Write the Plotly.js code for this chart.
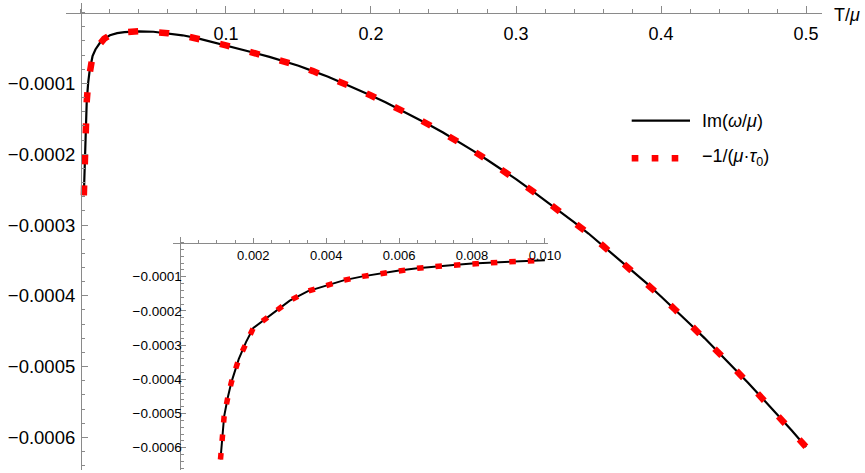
<!DOCTYPE html>
<html><head><meta charset="utf-8">
<script src="https://cdn.plot.ly/plotly-3.0.1.min.js"></script>
<style>html,body{margin:0;padding:0;background:#fff}#chart{width:865px;height:473px}</style>
</head><body><div id="chart"></div>
<script>
// ---------- DATA ----------
// Main panel: T/mu and the two coinciding curves
const mainT = [0.002,0.003,0.004,0.005,0.006,0.008,0.01,0.013,0.016,0.02,0.025,0.03,0.04,0.05,0.06,0.07,0.08,0.09,0.1,
  0.11,0.12,0.13,0.14,0.15,0.16,0.17,0.18,0.19,0.2,0.21,0.22,0.23,0.24,0.25,0.26,0.27,0.28,0.29,0.3,
  0.31,0.32,0.33,0.34,0.35,0.36,0.37,0.38,0.39,0.4,0.41,0.42,0.43,0.44,0.45,0.46,0.47,0.48,0.49,0.5];
const mainImOmega = [-2.58e-4,-1.70e-4,-1.25e-4,-0.99e-4,-0.82e-4,-0.615e-4,-0.52e-4,-0.43e-4,-0.37e-4,-0.32e-4,-0.29e-4,-0.275e-4,-0.264e-4,-0.270e-4,-0.290e-4,-0.320e-4,-0.360e-4,-0.410e-4,-0.462e-4,
  -0.515e-4,-0.570e-4,-0.625e-4,-0.685e-4,-0.750e-4,-0.826e-4,-0.902e-4,-0.990e-4,-1.077e-4,-1.170e-4,-1.265e-4,-1.369e-4,-1.473e-4,-1.583e-4,-1.696e-4,-1.818e-4,-1.946e-4,-2.078e-4,-2.214e-4,-2.351e-4,
  -2.500e-4,-2.650e-4,-2.800e-4,-2.960e-4,-3.120e-4,-3.294e-4,-3.466e-4,-3.640e-4,-3.820e-4,-4.009e-4,-4.200e-4,-4.398e-4,-4.597e-4,-4.805e-4,-5.015e-4,-5.228e-4,-5.450e-4,-5.673e-4,-5.900e-4,-6.135e-4];
const mainInvTau = [-2.58e-4,-1.70e-4,-1.25e-4,-0.99e-4,-0.82e-4,-0.615e-4,-0.52e-4,-0.43e-4,-0.37e-4,-0.32e-4,-0.29e-4,-0.275e-4,-0.264e-4,-0.270e-4,-0.290e-4,-0.320e-4,-0.360e-4,-0.410e-4,-0.462e-4,
  -0.515e-4,-0.570e-4,-0.625e-4,-0.685e-4,-0.750e-4,-0.826e-4,-0.902e-4,-0.990e-4,-1.077e-4,-1.170e-4,-1.265e-4,-1.369e-4,-1.473e-4,-1.583e-4,-1.696e-4,-1.818e-4,-1.946e-4,-2.078e-4,-2.214e-4,-2.351e-4,
  -2.500e-4,-2.650e-4,-2.800e-4,-2.960e-4,-3.120e-4,-3.294e-4,-3.466e-4,-3.640e-4,-3.820e-4,-4.009e-4,-4.200e-4,-4.398e-4,-4.597e-4,-4.805e-4,-5.015e-4,-5.228e-4,-5.450e-4,-5.673e-4,-5.900e-4,-6.135e-4];

// Inset: low-temperature zoom
const insetT = [0.0011,0.00115,0.0012,0.0013,0.0014,0.0016,0.0018,0.002,0.0025,0.003,0.0035,0.004,0.0045,0.005,0.0055,0.006,0.0065,0.007,0.0075,0.008,0.0085,0.009,0.0095,0.01];
const insetImOmega = [-6.34e-4,-5.60e-4,-5.08e-4,-4.53e-4,-4.08e-4,-3.41e-4,-2.91e-4,-2.50e-4,-2.10e-4,-1.70e-4,-1.42e-4,-1.25e-4,-1.10e-4,-0.99e-4,-0.90e-4,-0.82e-4,-0.755e-4,-0.70e-4,-0.66e-4,-0.615e-4,-0.585e-4,-0.56e-4,-0.54e-4,-0.52e-4];
const insetInvTau = [-6.34e-4,-5.60e-4,-5.08e-4,-4.53e-4,-4.08e-4,-3.41e-4,-2.91e-4,-2.50e-4,-2.10e-4,-1.70e-4,-1.42e-4,-1.25e-4,-1.10e-4,-0.99e-4,-0.90e-4,-0.82e-4,-0.755e-4,-0.70e-4,-0.66e-4,-0.615e-4,-0.585e-4,-0.56e-4,-0.54e-4,-0.52e-4];

// Tick labels
const mainXTickVals = [0.1,0.2,0.3,0.4,0.5];
const mainXTickText = ['0.1','0.2','0.3','0.4','0.5'];
const mainYTickVals = [-0.0001,-0.0002,-0.0003,-0.0004,-0.0005,-0.0006];
const mainYTickText = ['\u22120.0001','\u22120.0002','\u22120.0003','\u22120.0004','\u22120.0005','\u22120.0006'];
const insetXTickVals = [0.002,0.004,0.006,0.008,0.010];
const insetXTickText = ['0.002','0.004','0.006','0.008','0.010'];
const insetYTickVals = [-0.0001,-0.0002,-0.0003,-0.0004,-0.0005,-0.0006];
const insetYTickText = ['\u22120.0001','\u22120.0002','\u22120.0003','\u22120.0004','\u22120.0005','\u22120.0006'];

// Labels
const xAxisLabel = 'T/<i>\u03bc</i>';
const seriesNames = ['Im(<i>\u03c9</i>/<i>\u03bc</i>)', '\u22121/(<i>\u03bc</i>\u00b7<i>\u03c4</i><sub>0</sub>)'];

// ---------- LAYOUT ----------
const W = 865, H = 473;
const M = {l:66, r:43, t:3, b:3};
const PW = W - M.l - M.r, PH = H - M.t - M.b;
const px2x = p => (p - M.l) / PW;
const px2y = p => (H - M.b - p) / PH;

const FONT = '"Liberation Sans", Arial, Helvetica, sans-serif';
const AX = '#8a8a8a';

const mainXRange = [-0.0103, 0.511];
const mainYRange = [-6.46e-4, 0.136e-4];
const insetXRange = [-0.000203, 0.010085];
const insetYRange = [-6.65e-4, 0.161e-4];
const insetXDom = [px2x(173), px2x(548)];
const insetYDom = [Math.max(0, px2y(470)), px2y(237)];

const frac = (v, r) => (v - r[0]) / (r[1] - r[0]);
const mainXPos = frac(0, mainYRange);
const mainYPos = frac(0, mainXRange);
const insetXPos = insetYDom[0] + frac(0, insetYRange) * (insetYDom[1] - insetYDom[0]);
const insetYPos = insetXDom[0] + frac(0, insetXRange) * (insetXDom[1] - insetXDom[0]);

const traces = [
  {x: mainT, y: mainImOmega, xaxis:'x', yaxis:'y', mode:'lines', name:'Im', line:{color:'#000', width:2.2}, hoverinfo:'skip'},
  {x: mainT, y: mainInvTau, xaxis:'x', yaxis:'y', mode:'lines', name:'tau', line:{color:'#ff0000', width:6.5, dash:'10px,21px'}, hoverinfo:'skip'},
  {x: insetT, y: insetImOmega, xaxis:'x2', yaxis:'y2', mode:'lines', line:{color:'#000', width:2}, hoverinfo:'skip'},
  {x: insetT, y: insetInvTau, xaxis:'x2', yaxis:'y2', mode:'lines', line:{color:'#ff0000', width:5.5, dash:'6.5px,12px'}, hoverinfo:'skip'}
];

const common = {showline:true, linecolor:AX, linewidth:1, zeroline:false, showgrid:false, tickcolor:AX, tickwidth:1,
  tickmode:'array', ticklabeloverflow:'allow', fixedrange:true, automargin:false};

const layout = {
  width:W, height:H, margin:M, paper_bgcolor:'#fff', plot_bgcolor:'rgba(0,0,0,0)', showlegend:false,
  font:{family:FONT, color:'#000'},
  xaxis: Object.assign({}, common, {
    range: mainXRange, domain:[0,1], anchor:'free', position: mainXPos, side:'top',
    tickvals: mainXTickVals, ticktext: mainXTickText, ticks:'outside', ticklen:7,
    ticklabelposition:'inside', ticklabelstandoff: 14,
    tickfont:{family:FONT, size:18, color:'#000'},
    minor:{tickmode:'linear', tick0:0, dtick:0.02, ticks:'outside', ticklen:3.5, tickwidth:1, tickcolor:AX}
  }),
  yaxis: Object.assign({}, common, {
    range: mainYRange, domain:[0,1], anchor:'free', position: mainYPos, side:'left',
    tickvals: mainYTickVals, ticktext: mainYTickText, ticks:'inside', ticklen:6.5,
    ticklabelposition:'outside', ticklabelstandoff: 2,
    tickfont:{family:FONT, size:18.5, color:'#000'},
    minor:{tickmode:'linear', tick0:0, dtick:0.00002, ticks:'inside', ticklen:3.3, tickwidth:1, tickcolor:AX}
  }),
  xaxis2: Object.assign({}, common, {
    range: insetXRange, domain: insetXDom, anchor:'free', position: insetXPos, side:'top',
    tickvals: insetXTickVals, ticktext: insetXTickText, ticks:'outside', ticklen:5,
    ticklabelposition:'inside', ticklabelstandoff: 7,
    tickfont:{family:FONT, size:13, color:'#000'},
    minor:{tickmode:'linear', tick0:0, dtick:0.0005, ticks:'outside', ticklen:3, tickwidth:1, tickcolor:AX}
  }),
  yaxis2: Object.assign({}, common, {
    range: insetYRange, domain: insetYDom, anchor:'free', position: insetYPos, side:'left',
    tickvals: insetYTickVals, ticktext: insetYTickText, ticks:'inside', ticklen:4.3,
    ticklabelposition:'outside', ticklabelstandoff: -4,
    tickfont:{family:FONT, size:13.5, color:'#000'},
    minor:{tickmode:'linear', tick0:0, dtick:0.00002, ticks:'inside', ticklen:2.3, tickwidth:1, tickcolor:AX}
  }),
  annotations: [
    {text: xAxisLabel, xref:'paper', yref:'paper', x:1, y:mainXPos, xshift:10, yshift:-2, xanchor:'left', yanchor:'middle', showarrow:false, font:{family:FONT, size:18, color:'#000'}},
    {text: seriesNames[0], xref:'paper', yref:'paper', x:px2x(700), y:px2y(121), xanchor:'left', yanchor:'middle', showarrow:false, font:{family:FONT, size:18, color:'#000'}},
    {text: seriesNames[1], xref:'paper', yref:'paper', x:px2x(700), y:px2y(158), xanchor:'left', yanchor:'middle', showarrow:false, font:{family:FONT, size:18, color:'#000'}}
  ],
  shapes: [
    {type:'line', xref:'paper', yref:'paper', x0:px2x(631.7), x1:px2x(690), y0:px2y(120.7), y1:px2y(120.7), line:{color:'#000', width:2.2}},
    {type:'line', xref:'paper', yref:'paper', x0:px2x(631.7), x1:px2x(678.3), y0:px2y(158.3), y1:px2y(158.3), line:{color:'#ff0000', width:6.5, dash:'6.67px,13.33px'}}
  ]
};

Plotly.newPlot('chart', traces, layout, {staticPlot:true, displayModeBar:false});
</script>
</body></html>
